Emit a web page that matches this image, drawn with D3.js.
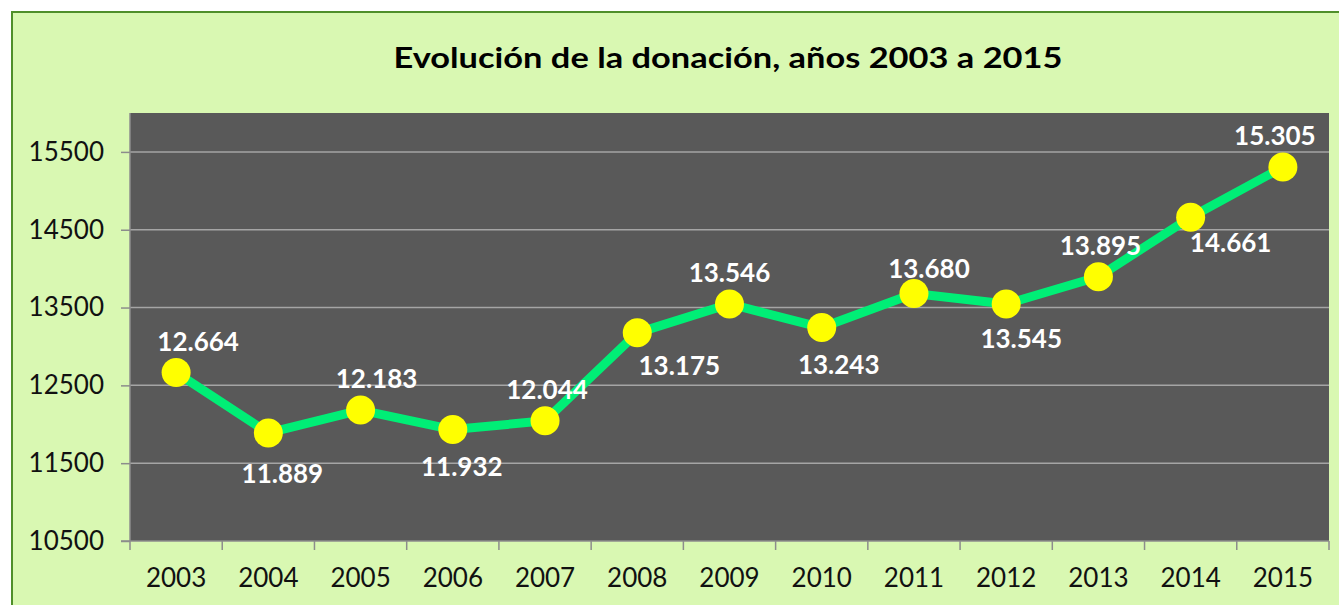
<!DOCTYPE html>
<html>
<head>
<meta charset="utf-8">
<script src="https://cdn.jsdelivr.net/npm/d3@7"></script>
<style>
  body { margin: 0; background: #fff; }
  text { font-family: Lato, "Open Sans", sans-serif; }
</style>
</head>
<body>
<div id="the_chart"></div>
<script>
var years = ["2003", "2004", "2005", "2006", "2007", "2008", "2009", "2010", "2011", "2012", "2013", "2014", "2015"];
var donations = [12664, 11889, 12183, 11932, 12044, 13175, 13546, 13243, 13680, 13545, 13895, 14661, 15305];
var yTicks = [10500, 11500, 12500, 13500, 14500, 15500];
// data label nudges (px) relative to each marker
var labelDx = [22, 14, 16, 9, 2, 42, 0, 17, 15, 15, 2, 40, -8];
var labelDy = [-22, 50, -22, 46, -22, 42, -22, 46, -16, 44, -22, 35, -22];

var w = 1339, h = 605;
var pLeft = 130, pRight = 1329, pTop = 113, pBottom = 541;

var svg = d3.select("#the_chart").append("svg")
  .attr("width", w)
  .attr("height", h);

svg.append("rect")
  .attr("x", 12).attr("y", 12)
  .attr("width", w + 20).attr("height", h + 20)
  .attr("fill", "#d9f8b2")
  .attr("stroke", "#4f8f2a")
  .attr("stroke-width", 2);

svg.append("text")
  .attr("x", 728).attr("y", 68)
  .attr("text-anchor", "middle")
  .attr("font-weight", "bold")
  .attr("font-size", 28)
  .attr("textLength", 669)
  .attr("lengthAdjust", "spacingAndGlyphs")
  .attr("fill", "#000")
  .text("Evolución de la donación, años 2003 a 2015");

var xscale = d3.scaleBand()
  .domain(years)
  .range([pLeft, pRight]);

var yscale = d3.scaleLinear()
  .domain([10500, 16000])
  .range([pBottom, pTop]);

svg.append("rect")
  .attr("x", pLeft).attr("y", pTop)
  .attr("width", pRight - pLeft).attr("height", pBottom - pTop)
  .attr("fill", "#595959");

// gridlines
svg.append("g")
  .selectAll("line")
  .data(yTicks.slice(1))
  .enter().append("line")
  .attr("x1", pLeft).attr("x2", pRight)
  .attr("y1", function (d) { return yscale(d); })
  .attr("y2", function (d) { return yscale(d); })
  .attr("stroke", "#a5a5a5")
  .attr("stroke-width", 1.5);

var yaxis = d3.axisLeft(yscale)
  .tickValues(yTicks)
  .tickSize(9)
  .tickPadding(17)
  .tickFormat(d3.format("d"));

var gY = svg.append("g")
  .attr("transform", "translate(" + pLeft + ",0)")
  .call(yaxis);

var xaxis = d3.axisBottom(xscale)
  .tickSize(0)
  .tickPadding(28);

var gX = svg.append("g")
  .attr("transform", "translate(0," + pBottom + ")")
  .call(xaxis);

// band boundary ticks
gX.selectAll(".bound")
  .data(d3.range(years.length + 1))
  .enter().append("line")
  .attr("class", "bound")
  .attr("x1", function (i) { return pLeft + i * xscale.step(); })
  .attr("x2", function (i) { return pLeft + i * xscale.step(); })
  .attr("y1", 0).attr("y2", 9)
  .attr("stroke", "#8c8c8c")
  .attr("stroke-width", 1.5);

[gX, gY].forEach(function (g) {
  g.select(".domain").attr("stroke", "#8c8c8c").attr("stroke-width", 1.5);
  g.selectAll(".tick line").attr("stroke", "#8c8c8c").attr("stroke-width", 1.5);
  g.selectAll(".tick text")
    .attr("font-size", 26)
    .attr("font-family", "Lato, sans-serif")
    .attr("fill", "#111");
});
gY.select(".domain").attr("d", "M0," + pTop + "V" + pBottom);
gX.select(".domain").attr("d", "M" + (pLeft - 9) + ",0H" + pRight);

var cx = function (d, i) { return xscale(years[i]) + xscale.bandwidth() / 2; };

var line = d3.line()
  .x(cx)
  .y(function (d) { return yscale(d); });

svg.append("path")
  .datum(donations)
  .attr("d", line)
  .attr("fill", "none")
  .attr("stroke", "#00ee76")
  .attr("stroke-width", 9)
  .attr("stroke-linejoin", "round");

svg.selectAll("circle")
  .data(donations)
  .enter().append("circle")
  .attr("cx", cx)
  .attr("cy", function (d) { return yscale(d); })
  .attr("r", 14.5)
  .attr("fill", "#ffff00");

var es = d3.formatLocale({ decimal: ",", thousands: ".", grouping: [3], currency: ["", " €"] });
var fmt = es.format(",d");

svg.selectAll(".lbl")
  .data(donations)
  .enter().append("text")
  .attr("class", "lbl")
  .attr("x", function (d, i) { return cx(d, i) + labelDx[i]; })
  .attr("y", function (d, i) { return yscale(d) + labelDy[i]; })
  .attr("text-anchor", "middle")
  .attr("font-weight", "bold")
  .attr("font-size", 26)
  .attr("fill", "#fff")
  .text(fmt);
</script>
</body>
</html>
